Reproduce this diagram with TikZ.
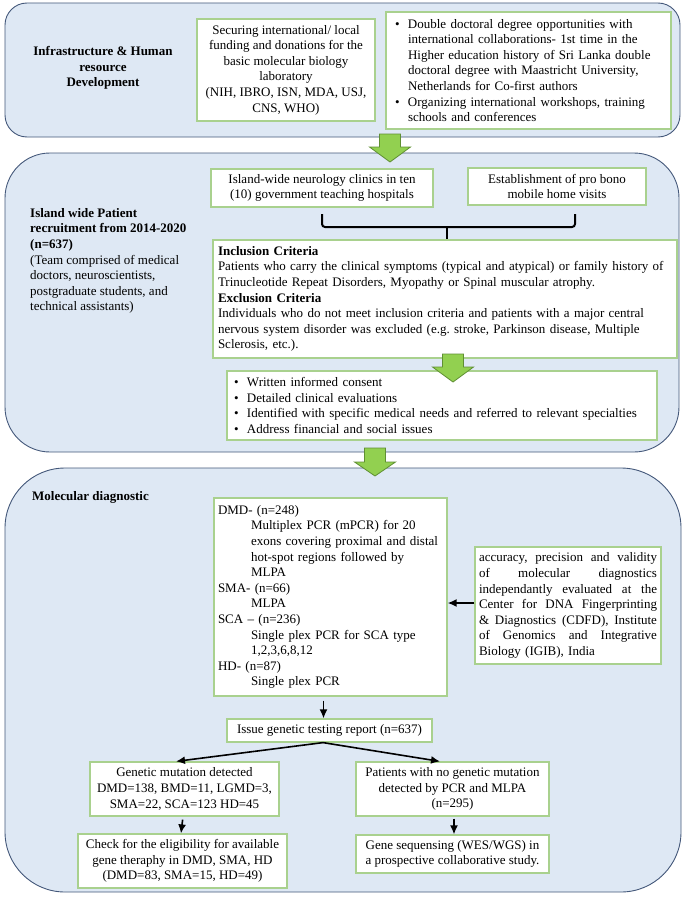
\documentclass[tikz,border=0pt]{standalone}
\usepackage{fontspec}
\setmainfont{Liberation Serif}
\usepackage{tikz}
\usetikzlibrary{arrows.meta}
\definecolor{panfill}{HTML}{DEE8F4}
\definecolor{panline}{HTML}{44587A}
\definecolor{boxline}{HTML}{A9D18E}
\definecolor{arrfill}{HTML}{92D050}
\definecolor{arrline}{HTML}{5F8F33}
\newcommand{\fs}{\fontsize{13}{15.6}\selectfont}
\newcommand{\bul}{\makebox[13pt][l]{\textbullet}}
\newcommand{\ind}{\hspace*{13pt}}
\newcommand{\dind}{\hspace*{33pt}}
\newcommand{\js}[1]{\leavevmode\hbox to 178pt{\spaceskip=3pt plus 1fil\relax #1}}
\frenchspacing

\begin{document}
\begin{tikzpicture}[x=1pt,y=-1pt]
% Node styles ---
\tikzstyle{pan} = [rectangle, draw = panline, fill = panfill, line width = 0.9pt]
\tikzstyle{box} = [rectangle, draw = boxline, fill = white, line width = 1.2pt, inner sep = 0pt, align = center, font = \fs]
\tikzstyle{txt} = [box, align = left]
\tikzstyle{hdr} = [font = \fs\bfseries, inner sep = 0pt]
\tikzstyle{con} = [-{Latex[length = 9pt, width = 8pt]}, draw = black, line width = 1.6pt]
\tikzstyle{blk} = [draw = arrline, fill = arrfill, line width = 0.8pt]
\tikzstyle{brc} = [draw = black, line width = 2pt, rounded corners = 3pt]
% Begin Figure ---
\useasboundingbox (0,0) rectangle (685,899);
% Panels
\node at (342.5,70) [pan, rounded corners = 22pt, minimum width = 675pt, minimum height = 134pt] (top) {};
\node at (342,302.5) [pan, rounded corners = 45pt, minimum width = 674pt, minimum height = 299pt] (mid) {};
\node at (343,680) [pan, rounded corners = 60pt, minimum width = 676pt, minimum height = 424pt] (bot) {};
\node at (103,68) [hdr, align = center] (h1) {Infrastructure \& Human\\resource\\Development};
\node at (30,261) [anchor = west, font = \fs, align = left, inner sep = 0pt] (h2) {\textbf{Island wide Patient}\\\textbf{recruitment from 2014-2020}\\\textbf{(n=637)}\\(Team comprised of medical\\doctors, neuroscientists,\\postgraduate students, and\\technical assistants)};
\node at (32,497) [hdr, anchor = west] (h3) {Molecular diagnostic};
% Nodes
\node at (286,70) [box, minimum width = 178pt, minimum height = 102pt] (fund) {Securing international/ local\\funding and donations for the\\basic molecular biology\\laboratory\\(NIH, IBRO, ISN, MDA, USJ,\\CNS, WHO)};
\node at (528.5,70.5) [txt, text width = 267pt, inner xsep = 9pt, minimum height = 117pt] (dd) {\bul Double doctoral degree opportunities with\\\ind international collaborations- 1st time in the\\\ind Higher education history of Sri Lanka double\\\ind doctoral degree with Maastricht University,\\\ind Netherlands for Co-first authors\\\bul Organizing international workshops, training\\\ind schools and conferences};
\node at (322,188) [box, minimum width = 222pt, minimum height = 38pt] (isl) {Island-wide neurology clinics in ten\\(10) government teaching hospitals};
\node at (557,186.5) [box, minimum width = 178pt, minimum height = 37pt] (est) {Establishment of pro bono\\mobile home visits};
\node at (445,299) [txt, text width = 454pt, inner xsep = 5pt, minimum height = 118pt] (incl) {\textbf{Inclusion Criteria}\\Patients who carry the clinical symptoms (typical and atypical) or family history of\\Trinucleotide Repeat Disorders, Myopathy or Spinal muscular atrophy.\\\textbf{Exclusion Criteria}\\Individuals who do not meet inclusion criteria and patients with a major central\\nervous system disorder was excluded (e.g. stroke, Parkinson disease, Multiple\\Sclerosis, etc.).};
\node at (442,405.5) [txt, text width = 416pt, inner xsep = 7pt, minimum height = 69pt] (prep) {\bul Written informed consent\\\bul Detailed clinical evaluations\\\bul Identified with specific medical needs and referred to relevant specialties\\\bul Address financial and social issues};
\node at (330.5,597) [txt, text width = 225pt, inner xsep = 4pt, minimum height = 198pt] (dmd) {DMD- (n=248)\\\dind Multiplex PCR (mPCR) for 20\\\dind exons covering proximal and distal\\\dind hot-spot regions followed by\\\dind MLPA\\SMA- (n=66)\\\dind MLPA\\SCA -- (n=236)\\\dind Single plex PCR for SCA type\\\dind 1,2,3,6,8,12\\HD- (n=87)\\\dind Single plex PCR};
\node at (568,605.5) [txt, text width = 178pt, inner xsep = 4pt, minimum height = 117pt] (acc) {\js{accuracy, precision and validity}\\\js{of molecular diagnostics}\\\js{independantly evaluated at the}\\\js{Center for DNA Fingerprinting}\\\js{\& Diagnostics (CDFD), Institute}\\\js{of Genomics and Integrative}\\Biology (IGIB), India};
\node at (329.5,730.5) [box, minimum width = 205pt, minimum height = 23pt] (iss) {Issue genetic testing report (n=637)};
\node at (184.5,789) [box, minimum width = 189pt, minimum height = 54pt] (gen) {Genetic mutation detected\\DMD=138, BMD=11, LGMD=3,\\SMA=22, SCA=123 HD=45};
\node at (182.5,861) [box, minimum width = 209pt, minimum height = 54pt] (chk) {Check for the eligibility for available\\gene theraphy in DMD, SMA, HD\\(DMD=83, SMA=15, HD=49)};
\node at (452.5,789) [box, minimum width = 193pt, minimum height = 54pt] (pat) {Patients with no genetic mutation\\detected by PCR and MLPA\\(n=295)};
\node at (452.5,854) [box, minimum width = 193pt, minimum height = 38pt] (seq) {Gene sequensing (WES/WGS) in\\a prospective collaborative study.};
% Paths
\coordinate (bm) at (447,227);
\draw [brc] (322,214) -- (322,227) -- (575,227) -- (575,214);
\draw [brc] (bm) -- (bm |- incl.north);
\path ([yshift=2.5pt]acc.west) edge [con] ([yshift=2.5pt]acc.west -| dmd.east);
\path ([xshift=-7pt]dmd.south) edge [con, shorten <= 4pt] ([xshift=-7pt]dmd.south |- iss.north);
\path ([xshift=-6.5pt]iss.south) edge [con] ([xshift=-8.5pt]gen.north);
\path ([xshift=-6.5pt]iss.south) edge [con] ([xshift=-12.5pt]pat.north);
\path ([xshift=-1.5pt]gen.south) edge [con, shorten <= 3pt] ([xshift=-1.5pt]chk.north);
\path ([xshift=1.5pt]pat.south) edge [con, shorten <= 2pt] ([xshift=1.5pt]seq.north);
% big arrows
\draw [blk] (379.5,134) -- ++(21,0) -- ++(0,13) -- ++(10,0) -- ++(-20.5,15) -- ++(-20.5,-15) -- ++(10,0) -- cycle;
\draw [blk] (442.5,354) -- ++(21,0) -- ++(0,13) -- ++(10,0) -- ++(-20.5,15) -- ++(-20.5,-15) -- ++(10,0) -- cycle;
\draw [blk] (364.5,448) -- ++(21,0) -- ++(0,14) -- ++(10,0) -- ++(-20.5,14) -- ++(-20.5,-14) -- ++(10,0) -- cycle;
\end{tikzpicture}
\end{document}
